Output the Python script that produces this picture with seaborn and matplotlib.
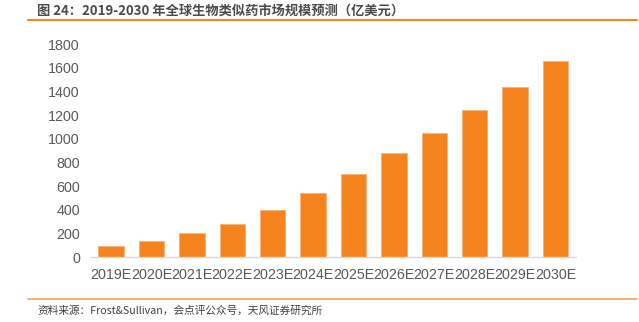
import matplotlib
matplotlib.use("Agg")
import matplotlib.pyplot as plt
import seaborn as sns
import pandas as pd
from matplotlib.lines import Line2D

years = ["2019E", "2020E", "2021E", "2022E", "2023E", "2024E",
         "2025E", "2026E", "2027E", "2028E", "2029E", "2030E"]
values = [98, 141, 203, 284, 397, 540, 703, 878, 1049, 1243, 1437, 1654]
y_ticks = [0, 200, 400, 600, 800, 1000, 1200, 1400, 1600, 1800]

title = "图 24：2019-2030 年全球生物类似药市场规模预测（亿美元）"
source = "资料来源：Frost&Sullivan，会点评公众号，天风证券研究所"

sns.set_theme(style="white")
plt.rcParams['font.family'] = ['Liberation Sans', 'Noto Sans CJK SC', 'DejaVu Sans']

df = pd.DataFrame({"year": years, "value": values})

fig = plt.figure(figsize=(6.39, 3.22), dpi=100)
ax = fig.add_axes([0.1424, 0.201, 0.7586, 0.662])

sns.barplot(data=df, x="year", y="value", color="#F5841F", saturation=1,
            width=0.63, edgecolor="#F9B27A", linewidth=0.6, ax=ax)

ax.set_xlim(-0.5, 11.5)
ax.set_ylim(0, 1800)
ax.set_yticks(y_ticks)
ax.set_yticklabels([str(t) for t in y_ticks])
ax.set_xlabel("")
ax.set_ylabel("")
for s in ["top", "right", "left"]:
    ax.spines[s].set_visible(False)
ax.spines["bottom"].set_color("#D9D9D9")
ax.spines["bottom"].set_linewidth(1.0)
ax.tick_params(axis="both", length=0, labelsize=10.3, colors="#595959")
ax.tick_params(axis="x", pad=8)
ax.tick_params(axis="y", pad=8)

fig.text(37 / 639, 1 - 11 / 322, title, fontsize=9.5, fontweight="semibold",
         color="#4a4a4a", va="center", ha="left",
         family=['Noto Sans CJK SC', 'DejaVu Sans'])
fig.add_artist(Line2D([28 / 639, 637 / 639], [1 - 20 / 322, 1 - 20 / 322],
                      color="#F5841F", linewidth=1.5))
fig.add_artist(Line2D([28 / 639, 637 / 639], [1 - 299 / 322, 1 - 299 / 322],
                      color="#F5A05A", linewidth=1.2))
fig.text(37 / 639, 1 - 311 / 322, source, fontsize=7.7, color="#404040",
         va="center", ha="left", family=['Noto Sans CJK SC', 'DejaVu Sans'])

fig.savefig("out.png", dpi=100)
